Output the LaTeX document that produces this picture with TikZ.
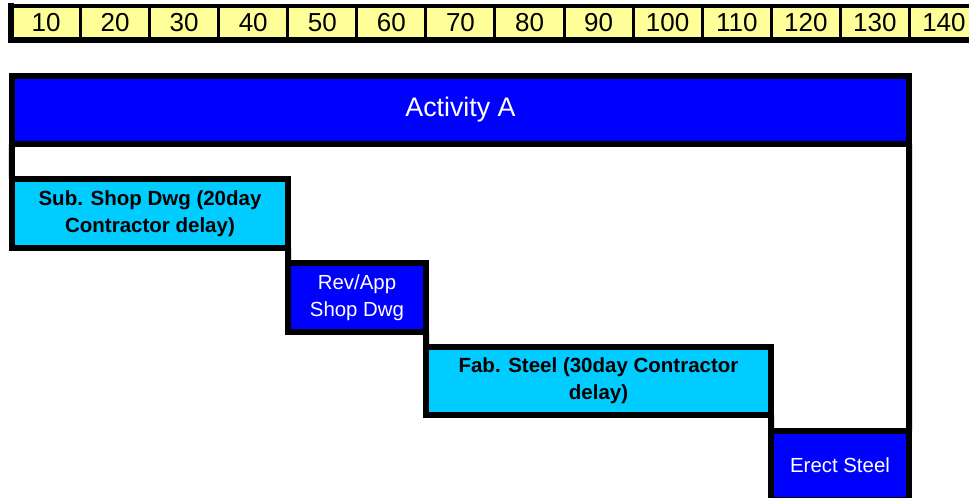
\documentclass[tikz,border=0pt]{standalone}
\usepackage{fontspec}
\setmainfont{Liberation Sans}
\definecolor{pblue}{RGB}{0,0,255}
\definecolor{pcyan}{RGB}{0,204,255}
\definecolor{pyellow}{RGB}{255,255,153}
\begin{document}
\begin{tikzpicture}[x=1bp,y=-1bp,
  box/.style={draw=black, line width=6bp, rectangle, inner sep=0pt, outer sep=0pt, align=center},
  bluebox/.style={box, fill=pblue, text=white, font=\fontsize{20.4bp}{27bp}\selectfont},
  cyanbox/.style={box, fill=pcyan, text=black, font=\fontsize{20.5bp}{27bp}\selectfont\bfseries},
  cell/.style={draw=black, fill=pyellow, line width=3bp, minimum width=69.07bp, minimum height=34bp, inner sep=0pt, outer sep=0pt, font=\fontsize{26bp}{30bp}\selectfont},
  link/.style={line width=6bp, draw=black}]
\useasboundingbox (0,0) rectangle (969,498);
\clip (0,0) rectangle (969,498);
\fill[white] (0,0) rectangle (969,498);
% ruler
\foreach \n in {1,...,14}{
  \pgfmathsetmacro{\cx}{11.5+69.07*(\n-0.5)}
  \pgfmathtruncatemacro{\lab}{10*\n}
  \node[cell] (c\n) at (\cx,23) {\raisebox{1.5bp}{\lab}};
}
\draw[line width=4bp] (c1.north west) -- (c14.north east);
\draw[line width=6bp] (c1.south west) -- (c14.south east);
\draw[line width=6bp] ([yshift=3bp]c1.north west) -- ([yshift=-3bp]c1.south west);
% activities
\node[bluebox, minimum width=897bp, minimum height=68bp, font=\fontsize{26.8bp}{30bp}\selectfont] (act) at (460.5,110) {Activity A};
\node[cyanbox, minimum width=276bp, minimum height=69bp] (sub) at (150,213.5) {Sub. Shop Dwg (20day\\Contractor delay)};
\node[bluebox, minimum width=138bp, minimum height=69bp] (rev) at (357,297.5) {Rev/App\\Shop Dwg};
\node[cyanbox, minimum width=345bp, minimum height=68bp] (fab) at (598.5,381) {Fab. Steel (30day Contractor\\delay)};
\node[bluebox, minimum width=138bp, minimum height=69bp] (erect) at (840,465.5) {Erect Steel};
% connectors
\draw[link] (act.south west) -- (sub.north west);
\draw[link] (act.south east) -- (erect.north east);
\draw[link] (sub.south east) -- (rev.north west);
\draw[link] (rev.south east) -- (fab.north west);
\draw[link] (fab.south east) -- (erect.north west);
\end{tikzpicture}
\end{document}
